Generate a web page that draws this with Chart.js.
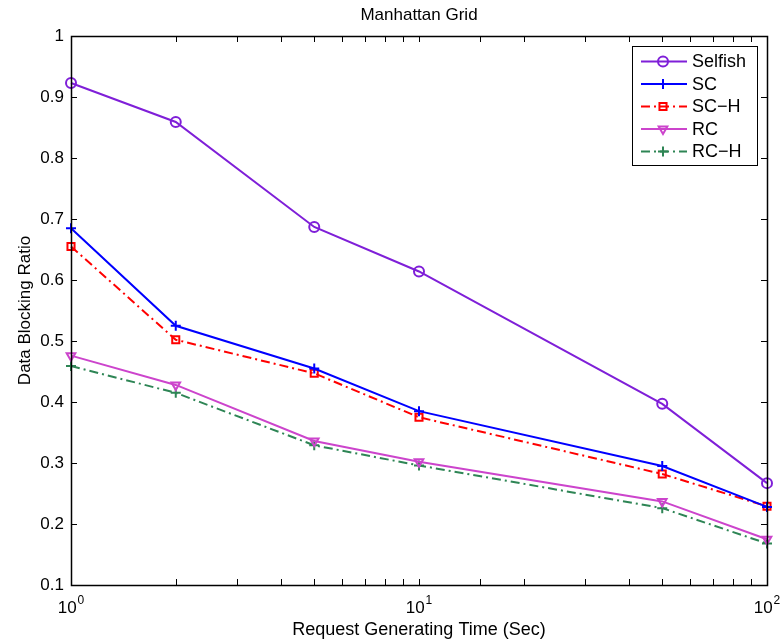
<!DOCTYPE html>
<html>
<head>
<meta charset="utf-8">
<script src="https://cdn.jsdelivr.net/npm/chart.js@4.4.0/dist/chart.umd.min.js"></script>
<style>
html, body { margin: 0; padding: 0; background: #fff; }
#wrap { width: 782px; height: 643px; }
</style>
</head>
<body>
<div id="wrap"><canvas id="chart"></canvas></div>
<script>
// request generating time (sec), log axis
const xValues = [1, 2, 5, 10, 50, 100];

const selfish = [0.923, 0.859, 0.687, 0.614, 0.397, 0.267];
const sc      = [0.685, 0.525, 0.455, 0.385, 0.295, 0.228];
const scH     = [0.655, 0.502, 0.447, 0.375, 0.282, 0.229];
const rc      = [0.476, 0.428, 0.336, 0.302, 0.237, 0.175];
const rcH     = [0.459, 0.415, 0.329, 0.296, 0.226, 0.168];

const seriesNames = ['Selfish', 'SC', 'SC\u2212H', 'RC', 'RC\u2212H'];
const yTicks = [0.1, 0.2, 0.3, 0.4, 0.5, 0.6, 0.7, 0.8, 0.9, 1];
// major x ticks drawn as base 10 with exponent
const xMajor = [1, 10, 100];
const xExponents = ['0', '1', '2'];

const FONT = 'Liberation Sans, Arial, Helvetica, sans-serif';

function toPoints(arr) {
    return xValues.map((x, i) => ({ x: x, y: arr[i] }));
}

function makeSet(label, arr, color, style, dash, rotation) {
    return {
        label: label,
        data: toPoints(arr),
        borderColor: color,
        backgroundColor: 'rgba(255,255,255,0)',
        borderWidth: 2,
        borderDash: dash,
        pointStyle: style,
        pointRadius: 5,
        pointBorderWidth: 2,
        pointRotation: rotation || 0,
        pointBorderColor: color,
        pointBackgroundColor: 'rgba(255,255,255,0)',
        tension: 0,
        fill: false,
        clip: false
    };
}

const datasets = [
    makeSet(seriesNames[0], selfish, '#7f1fd8', 'circle', []),
    makeSet(seriesNames[1], sc, '#0000ff', 'cross', []),
    makeSet(seriesNames[2], scH, '#ff0000', 'rect', [9, 4, 2, 4]),
    makeSet(seriesNames[3], rc, '#cc44cc', 'triangle', [], 180),
    makeSet(seriesNames[4], rcH, '#2e8555', 'cross', [9, 4, 2, 4])
];

// matlab-style box, inward ticks, x labels, title and legend inside the plot
const matlabFrame = {
    id: 'matlabFrame',
    afterDraw(chart) {
        const ctx = chart.ctx;
        const a = chart.chartArea;
        const xs = chart.scales.x;
        const ys = chart.scales.y;
        const tl = 6;
        ctx.save();
        ctx.strokeStyle = '#000';
        ctx.lineWidth = 1;
        ctx.beginPath();
        xs.ticks.forEach(t => {
            const px = Math.round(xs.getPixelForValue(t.value)) + 0.5;
            ctx.moveTo(px, a.bottom); ctx.lineTo(px, a.bottom - tl);
            ctx.moveTo(px, a.top); ctx.lineTo(px, a.top + tl);
        });
        yTicks.forEach(v => {
            const py = Math.round(ys.getPixelForValue(v)) + 0.5;
            ctx.moveTo(a.left, py); ctx.lineTo(a.left + tl, py);
            ctx.moveTo(a.right, py); ctx.lineTo(a.right - tl, py);
        });
        ctx.stroke();
        ctx.lineWidth = 1.5;
        ctx.strokeRect(Math.round(a.left) + 0.5, Math.round(a.top) + 0.5,
            Math.round(a.right - a.left), Math.round(a.bottom - a.top));

        // x tick labels: 10 with raised exponent
        ctx.fillStyle = '#000';
        ctx.textAlign = 'left';
        ctx.textBaseline = 'alphabetic';
        xMajor.forEach((v, i) => {
            const px = xs.getPixelForValue(v);
            ctx.font = '17px ' + FONT;
            const w1 = ctx.measureText('10').width;
            ctx.font = '12px ' + FONT;
            const w2 = ctx.measureText(xExponents[i]).width;
            const x0 = px - (w1 + w2 + 1) / 2;
            ctx.font = '17px ' + FONT;
            ctx.fillText('10', x0, a.bottom + 28);
            ctx.font = '12px ' + FONT;
            ctx.fillText(xExponents[i], x0 + w1 + 1, a.bottom + 19);
        });

        // title
        ctx.font = '17px ' + FONT;
        ctx.textAlign = 'center';
        ctx.textBaseline = 'middle';
        ctx.fillText('Manhattan Grid', (a.left + a.right) / 2, 15);

        // legend
        const lx = 632, ly = 46, lw = 125, lh = 119;
        ctx.fillStyle = '#fff';
        ctx.fillRect(lx, ly, lw, lh);
        ctx.lineWidth = 1;
        ctx.strokeStyle = '#000';
        ctx.strokeRect(lx + 0.5, ly + 0.5, lw, lh);
        ctx.font = '18px ' + FONT;
        ctx.textAlign = 'left';
        chart.data.datasets.forEach((ds, i) => {
            const y = ly + 15.5 + i * 22.5;
            ctx.strokeStyle = ds.borderColor;
            ctx.lineWidth = 2;
            ctx.setLineDash(ds.borderDash);
            ctx.beginPath();
            ctx.moveTo(lx + 9, y);
            ctx.lineTo(lx + 55, y);
            ctx.stroke();
            ctx.setLineDash([]);
            ctx.fillStyle = 'rgba(255,255,255,0)';
            Chart.helpers.drawPoint(ctx, {
                pointStyle: ds.pointStyle,
                radius: 5,
                rotation: ds.pointRotation,
                borderWidth: 2
            }, lx + 31, y);
            ctx.fillStyle = '#000';
            ctx.fillText(ds.label, lx + 60, y + 1);
        });
        ctx.restore();
    }
};

const chart = new Chart(document.getElementById('chart'), {
    type: 'line',
    data: { datasets: datasets },
    options: {
        responsive: true,
        maintainAspectRatio: false,
        animation: false,
        layout: { padding: { top: 36, right: 15, left: 15, bottom: 0 } },
        plugins: {
            legend: { display: false },
            tooltip: { enabled: false }
        },
        scales: {
            x: {
                type: 'logarithmic',
                min: 1,
                max: 100,
                grid: { display: false, drawTicks: false },
                border: { display: false },
                afterFit(scale) { scale.height = 58; },
                ticks: {
                    autoSkip: false,
                    maxRotation: 0,
                    padding: 5,
                    font: { family: FONT, size: 17 },
                    callback: () => ''
                },
                title: {
                    display: true,
                    text: 'Request Generating Time (Sec)',
                    color: '#000',
                    padding: { top: 0, bottom: 2 },
                    font: { family: FONT, size: 18 }
                }
            },
            y: {
                min: 0.1,
                max: 1,
                grid: { display: false, drawTicks: false },
                border: { display: false },
                afterFit(scale) { scale.width = 56; },
                afterBuildTicks(scale) {
                    scale.ticks = yTicks.map(v => ({ value: v }));
                },
                ticks: {
                    padding: 7,
                    color: '#000',
                    font: { family: FONT, size: 17 },
                    callback: v => String(Math.round(v * 10) / 10)
                },
                title: {
                    display: true,
                    text: 'Data Blocking Ratio',
                    color: '#000',
                    padding: { top: 0, bottom: 0 },
                    font: { family: FONT, size: 17 }
                }
            }
        }
    },
    plugins: [matlabFrame]
});
</script>
</body>
</html>
